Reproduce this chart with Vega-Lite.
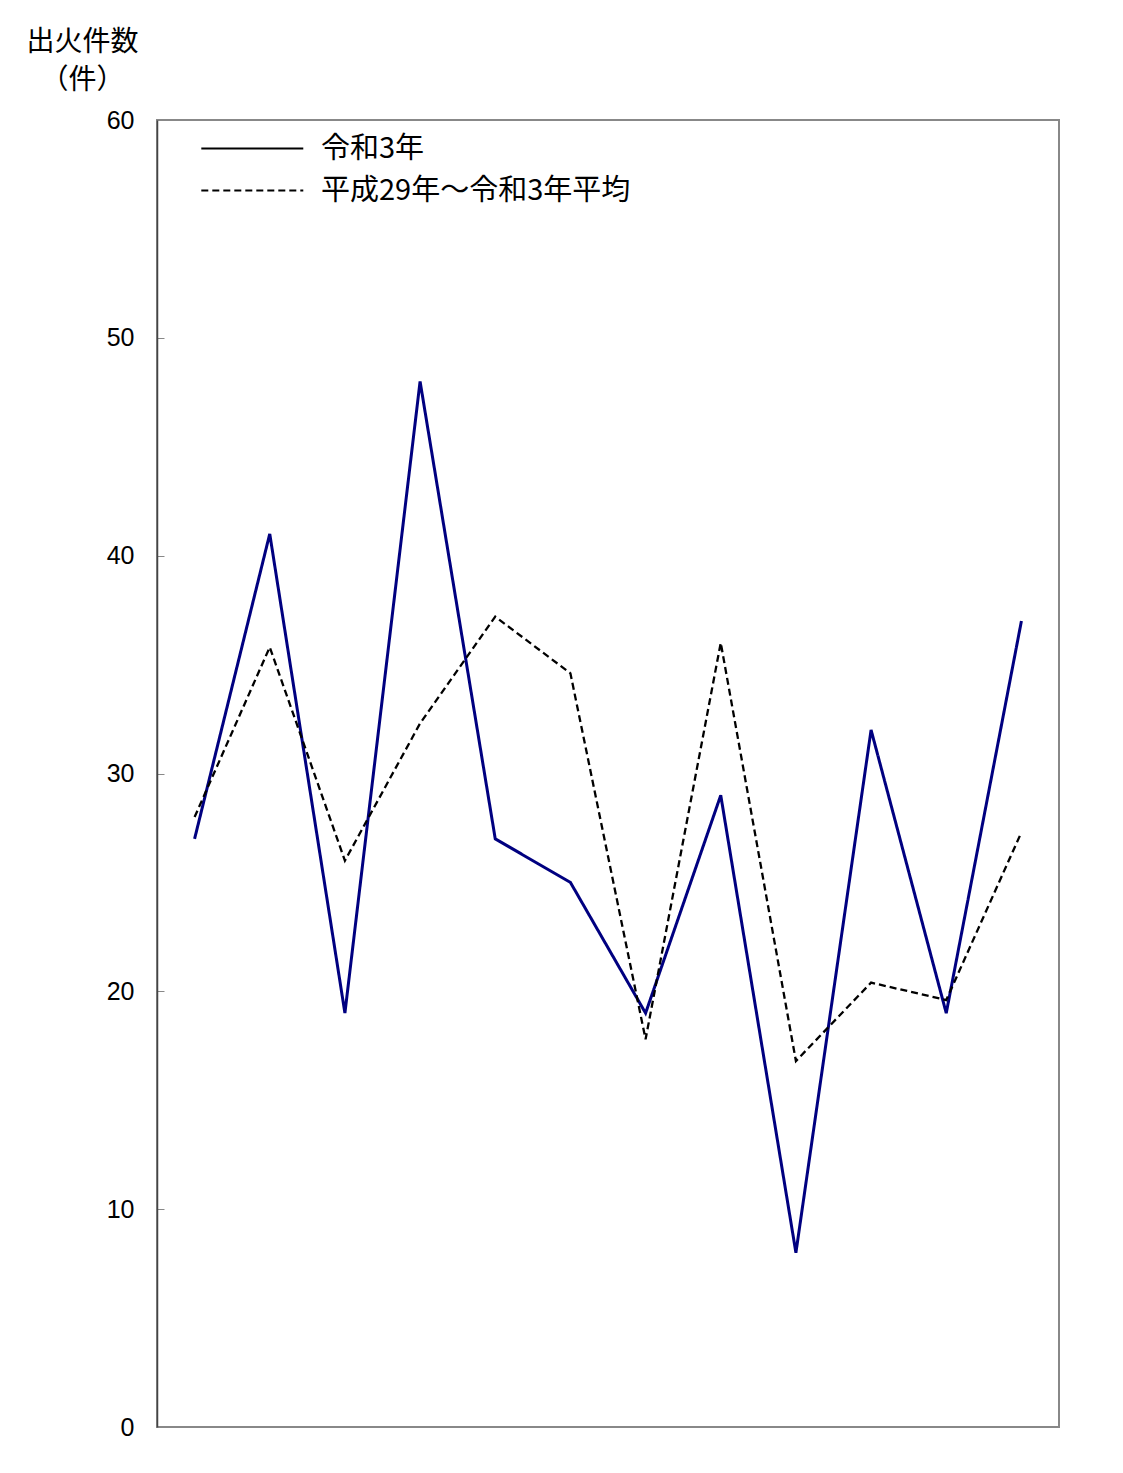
{
  "$schema": "https://vega.github.io/schema/vega-lite/v6.json",
  "autosize": "none",
  "width": 902,
  "height": 1307,
  "padding": {"left": 157, "top": 120, "right": 64, "bottom": 46},
  "background": "white",
  "config": {
    "view": {"stroke": "#888888", "strokeWidth": 2},
    "font": "Noto Sans CJK JP"
  },
  "data": {
    "values": [
      {"month": 1, "series": "令和3年", "value": 27},
      {"month": 2, "series": "令和3年", "value": 41},
      {"month": 3, "series": "令和3年", "value": 19},
      {"month": 4, "series": "令和3年", "value": 48},
      {"month": 5, "series": "令和3年", "value": 27},
      {"month": 6, "series": "令和3年", "value": 25},
      {"month": 7, "series": "令和3年", "value": 19},
      {"month": 8, "series": "令和3年", "value": 29},
      {"month": 9, "series": "令和3年", "value": 8},
      {"month": 10, "series": "令和3年", "value": 32},
      {"month": 11, "series": "令和3年", "value": 19},
      {"month": 12, "series": "令和3年", "value": 37},
      {"month": 1, "series": "平成29年〜令和3年平均", "value": 28.0},
      {"month": 2, "series": "平成29年〜令和3年平均", "value": 35.8},
      {"month": 3, "series": "平成29年〜令和3年平均", "value": 26.0},
      {"month": 4, "series": "平成29年〜令和3年平均", "value": 32.3},
      {"month": 5, "series": "平成29年〜令和3年平均", "value": 37.2},
      {"month": 6, "series": "平成29年〜令和3年平均", "value": 34.6},
      {"month": 7, "series": "平成29年〜令和3年平均", "value": 17.8},
      {"month": 8, "series": "平成29年〜令和3年平均", "value": 36.0},
      {"month": 9, "series": "平成29年〜令和3年平均", "value": 16.8},
      {"month": 10, "series": "平成29年〜令和3年平均", "value": 20.4},
      {"month": 11, "series": "平成29年〜令和3年平均", "value": 19.6},
      {"month": 12, "series": "平成29年〜令和3年平均", "value": 27.3}
    ]
  },
  "mark": {"type": "line"},
  "encoding": {
    "x": {"field": "month", "type": "ordinal", "axis": null},
    "y": {
      "field": "value",
      "type": "quantitative",
      "scale": {"domain": [0, 60], "nice": false},
      "axis": {
        "values": [0, 10, 20, 30, 40, 50, 60],
        "grid": false,
        "ticks": true,
        "tickSize": -7,
        "tickColor": "#888888",
        "tickWidth": 1,
        "domain": true,
        "domainColor": "#444444",
        "domainWidth": 1.5,
        "labelFont": "Liberation Sans",
        "labelFontSize": 25,
        "labelPadding": 30,
        "labelColor": "black",
        "title": ["出火件数", "（件）"],
        "titleAngle": 0,
        "titleX": -75,
        "titleY": -78,
        "titleAlign": "center",
        "titleBaseline": "middle",
        "titleFontSize": 28,
        "titleFontWeight": "normal",
        "titleLineHeight": 38,
        "titleColor": "black",
        "titleFont": "Noto Sans CJK JP"
      }
    },
    "color": {
      "condition": {"test": "datum.series === '令和3年'", "value": "#000080"},
      "value": "#000000"
    },
    "strokeWidth": {
      "condition": {"test": "datum.series === '令和3年'", "value": 3},
      "value": 2.3
    },
    "strokeDash": {
      "field": "series",
      "type": "nominal",
      "scale": {"domain": ["令和3年", "平成29年〜令和3年平均"], "range": [[1, 0], [7, 4]]},
      "legend": {
        "orient": "none",
        "legendX": 40,
        "legendY": 14,
        "title": null,
        "padding": 0,
        "symbolType": "M-1,0H9",
        "symbolSize": 416,
        "symbolStrokeWidth": 2,
        "symbolStrokeColor": "black",
        "labelFontSize": 29,
        "labelFont": "Noto Sans CJK JP",
        "labelColor": "black",
        "labelLimit": 0,
        "labelOffset": 95,
        "rowPadding": 12,
        "encode": {"symbols": {"update": {"stroke": {"value": "black"}, "strokeWidth": {"value": 2}}}}
      }
    }
  }
}
